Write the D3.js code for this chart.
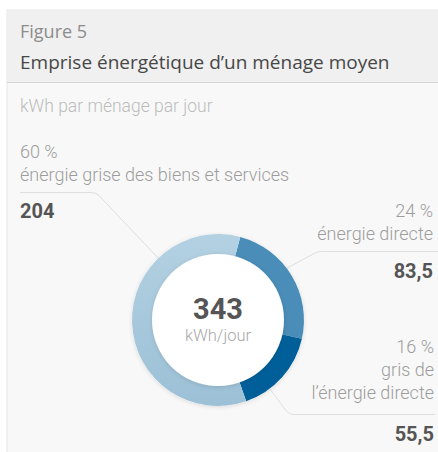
<!DOCTYPE html>
<html>
<head>
<meta charset="utf-8">
<script src="https://cdn.jsdelivr.net/npm/d3@7"></script>
<style>
  body { margin: 0; background: #fff; }
  svg { display: block; }
</style>
</head>
<body>
<svg id="canvas"></svg>
<script>
// data
const categories = ["énergie directe", "gris de l’énergie directe", "énergie grise des biens et services"]
const values = [83.5, 55.5, 204]
const valueLabels = ["83,5", "55,5", "204"]
const percentLabels = ["24 %", "16 %", "60 %"]
const totalLabel = "343"
const unitLabel = "kWh/jour"

const w = 438, h = 452
const cx = 218, cy = 320, rOut = 86, rIn = 66
const colors = ["#4a8db8", "#005f99", "url(#lightGrad)"]

const svg = d3.select("#canvas").attr("width", w).attr("height", h)

const defs = svg.append("defs")
const grad = defs.append("linearGradient").attr("id", "lightGrad")
        .attr("x1", 0).attr("y1", 0).attr("x2", 0).attr("y2", 1)
grad.append("stop").attr("offset", "0%").attr("stop-color", "#b3d1e2")
grad.append("stop").attr("offset", "100%").attr("stop-color", "#9cc0d6")
const shadow = defs.append("filter").attr("id", "shadow")
        .attr("x", "-20%").attr("y", "-20%").attr("width", "140%").attr("height", "140%")
shadow.append("feDropShadow").attr("dx", 0).attr("dy", 1).attr("stdDeviation", 2)
        .attr("flood-color", "#000").attr("flood-opacity", 0.12)

// card
svg.append("rect").attr("x", 7).attr("y", 10).attr("width", w).attr("height", h)
        .attr("fill", "#f8f8f8").attr("stroke", "#e6e6e6")
svg.append("rect").attr("x", 7.5).attr("y", 10.5).attr("width", w).attr("height", 72)
        .attr("fill", "#f0f0f0")
svg.append("line").attr("x1", 7).attr("x2", w).attr("y1", 82.5).attr("y2", 82.5)
        .attr("stroke", "#d6d6d6")

svg.append("text").attr("x", 20).attr("y", 38)
        .style("font-family", "'Open Sans', sans-serif").style("font-size", "18px")
        .attr("fill", "#8c8c8c").text("Figure 5")
svg.append("text").attr("x", 20).attr("y", 69)
        .style("font-family", "'Open Sans', sans-serif").style("font-size", "19px")
        .attr("fill", "#474747").text("Emprise énergétique d’un ménage moyen")
svg.append("text").attr("x", 20).attr("y", 112)
        .style("font-family", "Roboto, sans-serif").style("font-weight", 300).style("font-size", "17.5px")
        .attr("fill", "#bcbcbc").text("kWh par ménage par jour")

// leader lines (angle on ring, elbow, end point)
function leader(angleDeg, elbow, endX) {
        const a = angleDeg * Math.PI / 180
        const sx = cx + Math.sin(a) * rOut, sy = cy - Math.cos(a) * rOut
        const p = d3.path()
        p.moveTo(sx, sy)
        p.arcTo(elbow[0], elbow[1], endX, elbow[1], 10)
        p.lineTo(endX, elbow[1])
        return p.toString()
}
const leaders = [leader(53, [318, 251.5], w), leader(143, [289, 414.5], 435), leader(-44, [96, 192.5], 20)]
svg.selectAll(".leader").data(leaders).join("path").attr("class", "leader")
        .attr("d", d => d).attr("fill", "none").attr("stroke", "#dedede").attr("stroke-width", 1)

// donut
const pie = d3.pie().sort(null).value(d => d)
        .startAngle(15 * Math.PI / 180).endAngle(375 * Math.PI / 180)
const arc = d3.arc().innerRadius(rIn - 2).outerRadius(rOut)
const g = svg.append("g").attr("transform", `translate(${cx},${cy})`)
g.append("circle").attr("r", rOut).attr("fill", "#fff").attr("filter", "url(#shadow)")
g.selectAll(".slice").data(pie(values)).join("path").attr("class", "slice")
        .attr("d", arc).attr("fill", (d, i) => colors[i])
g.append("circle").attr("r", rIn).attr("fill", "#fff").attr("filter", "url(#shadow)")
g.append("text").attr("y", -1).attr("text-anchor", "middle")
        .style("font-family", "Roboto, sans-serif").style("font-weight", 700).style("font-size", "29px")
        .attr("fill", "#555").text(totalLabel)
g.append("text").attr("y", 21).attr("text-anchor", "middle")
        .style("font-family", "Roboto, sans-serif").style("font-weight", 300).style("font-size", "16.5px")
        .attr("fill", "#a8a8a8").text(unitLabel)

// labels: percent + category lines + value
const labelPos = [
        {x: 433, anchor: "end", lines: ["énergie directe"], top: 217, val: 278},
        {x: 434, anchor: "end", lines: ["gris de", "l’énergie directe"], top: 353, val: 441},
        {x: 20, anchor: "start", lines: ["énergie grise des biens et services"], top: 158, val: 218}
]
labelPos.forEach((p, i) => {
        const t = svg.append("text").attr("x", p.x).attr("y", p.top).attr("text-anchor", p.anchor)
                .style("font-family", "Roboto, sans-serif").style("font-weight", 300).style("font-size", "18px")
                .attr("fill", "#9d9d9d")
        t.append("tspan").attr("x", p.x).text(percentLabels[i])
        p.lines.forEach(l => t.append("tspan").attr("x", p.x).attr("dy", 23).text(l))
        svg.append("text").attr("x", p.x).attr("y", p.val).attr("text-anchor", p.anchor)
                .style("font-family", "Roboto, sans-serif").style("font-weight", 700).style("font-size", "20px")
                .attr("fill", "#555").text(valueLabels[i])
})
</script>
</body>
</html>
